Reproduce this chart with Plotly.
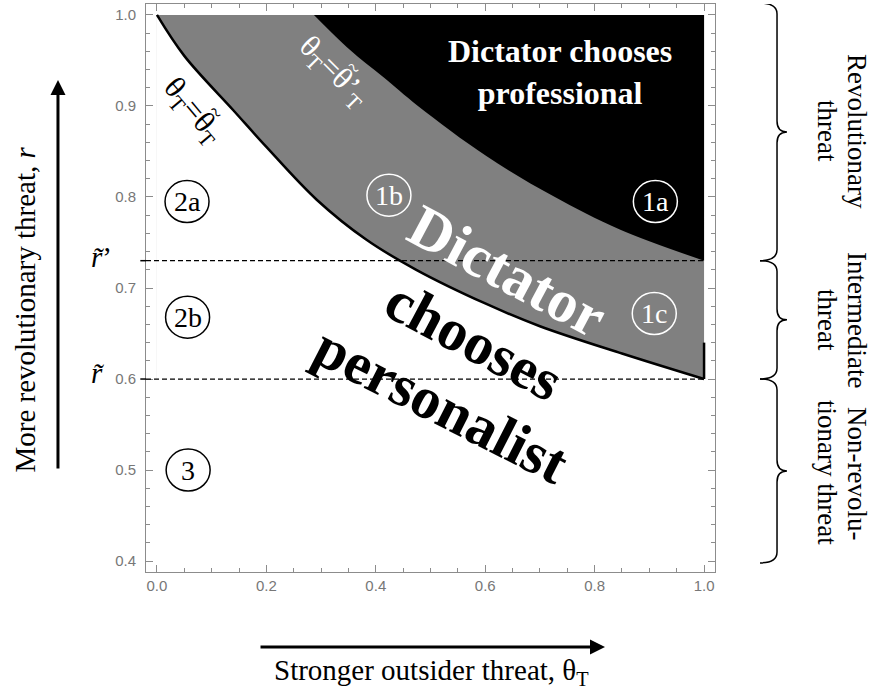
import math
import plotly.graph_objects as go

# ---------------- data ----------------
theta_lower = [0.0, 0.05, 0.14, 0.20, 0.292, 0.383, 0.474, 0.60, 0.70, 0.85, 1.0]
r_lower = [1.0, 0.955, 0.895, 0.855, 0.797, 0.753, 0.720, 0.683, 0.658, 0.628, 0.60]

theta_upper = [0.287, 0.352, 0.413, 0.477, 0.602, 0.724, 0.847, 1.0]
r_upper = [1.0, 0.962, 0.932, 0.90, 0.845, 0.801, 0.764, 0.73]

r_tilde = 0.60
r_tilde_prime = 0.73
theta_min, theta_max = 0.0, 1.0
r_max = 1.0
r_edge_top = 0.64

x_ticks = [0.0, 0.2, 0.4, 0.6, 0.8, 1.0]
x_tick_labels = ["0.0", "0.2", "0.4", "0.6", "0.8", "1.0"]
y_ticks = [0.4, 0.5, 0.6, 0.7, 0.8, 0.9, 1.0]
y_tick_labels = ["0.4", "0.5", "0.6", "0.7", "0.8", "0.9", "1.0"]

region_names = ["1a", "1b", "1c", "2a", "2b", "3"]
region_theta = [0.911, 0.424, 0.909, 0.055, 0.056, 0.057]
region_r = [0.795, 0.802, 0.672, 0.795, 0.668, 0.50]
region_colors = ["white", "white", "white", "black", "black", "black"]

brace_bounds = [1.013, r_tilde_prime, r_tilde, 0.398]

SERIF = "Liberation Serif"
SANS = "Liberation Sans"
GRAY = "#808080"
FRAME = "#8c8c8c"

fig = go.Figure()

# gray band (base), then white below the lower boundary, then black above upper boundary
fig.add_trace(go.Scatter(
    x=[theta_min, theta_max, theta_max, theta_min],
    y=[r_tilde, r_tilde, r_max, r_max],
    mode="lines", line=dict(width=0), fill="toself", fillcolor=GRAY,
    hoverinfo="skip", showlegend=False))

fig.add_trace(go.Scatter(
    x=[theta_min, theta_max], y=[r_tilde, r_tilde],
    mode="lines", line=dict(width=0), hoverinfo="skip", showlegend=False))
fig.add_trace(go.Scatter(
    x=theta_lower, y=r_lower, mode="lines",
    line=dict(color="black", width=2.5, shape="spline"),
    fill="tonexty", fillcolor="white", hoverinfo="skip", showlegend=False))

fig.add_trace(go.Scatter(
    x=theta_upper, y=r_upper, mode="lines",
    line=dict(width=0, shape="spline", color="black"),
    hoverinfo="skip", showlegend=False))
fig.add_trace(go.Scatter(
    x=[theta_upper[0], theta_max], y=[r_max, r_max], mode="lines",
    line=dict(width=0, color="black"), fill="tonexty", fillcolor="black",
    hoverinfo="skip", showlegend=False))

# short black edge at theta = 1
fig.add_trace(go.Scatter(
    x=[theta_max, theta_max], y=[r_tilde, r_edge_top], mode="lines",
    line=dict(color="black", width=2.5), hoverinfo="skip", showlegend=False))

shapes = []
# dashed threshold lines
for rv in (r_tilde_prime, r_tilde):
    shapes.append(dict(type="line", xref="x", yref="y", x0=-0.02, x1=theta_max,
                       y0=rv, y1=rv, line=dict(color="black", width=1.2, dash="5px,3px"),
                       layer="above"))
    shapes.append(dict(type="line", xref="paper", yref="y", x0=-0.010, x1=0.0,
                       y0=rv, y1=rv, line=dict(color="black", width=1.5), layer="above"))

# circled region labels
annotations = []
for name, tx, ry, col in zip(region_names, region_theta, region_r, region_colors):
    shapes.append(dict(type="circle", xref="x", yref="y",
                       xsizemode="pixel", ysizemode="pixel",
                       xanchor=tx, yanchor=ry, x0=-22, x1=22, y0=-21, y1=21,
                       line=dict(color=col, width=1.5), layer="above"))
    annotations.append(dict(x=tx, y=ry, xref="x", yref="y", text=name, showarrow=False,
                            font=dict(family=SERIF, size=28, color=col),
                            xanchor="center", yanchor="middle"))

# braces on the right
xe, xs, xt = 1.0791, 1.109, 1.1265
d = 0.012
for top, bot in zip(brace_bounds[:-1], brace_bounds[1:]):
    mid = (top + bot) / 2
    path = (f"M {xe},{top} Q {xs},{top} {xs},{top - d} "
            f"L {xs},{mid + d} Q {xs},{mid} {xt},{mid} "
            f"Q {xs},{mid} {xs},{mid - d} "
            f"L {xs},{bot + d} Q {xs},{bot} {xe},{bot}")
    shapes.append(dict(type="path", xref="paper", yref="y", path=path,
                       line=dict(color="black", width=1.5)))


def ann(x, y, text, size, color="black", angle=0, xref="x", yref="y", family=SERIF,
        xshift=0, yshift=0):
    return dict(x=x, y=y, xref=xref, yref=yref, text=text, textangle=angle,
                showarrow=False, xanchor="center", yanchor="middle",
                xshift=xshift, yshift=yshift,
                font=dict(family=family, size=size, color=color))


def tilde_over(x, y, angle, along, up, color):
    a = math.radians(angle)
    dx = along * math.cos(a) + up * math.sin(a)
    dy = along * math.sin(a) - up * math.cos(a)   # screen (down positive)
    return ann(x, y, "~", 22, color, angle, xshift=dx, yshift=-dy)


lab_lo = (0.064, 0.894, 50)
lab_up = (0.322, 0.937, 45)

annotations += [
    ann(0.737, 0.937, "<b>Dictator chooses<br>professional</b>", 32, "white"),
    ann(0.640, 0.719, "<b>Dictator</b>", 60, "white", 28),
    ann(0.579, 0.643, "<b>chooses</b>", 59, "black", 28),
    ann(0.521, 0.572, "<b>personalist</b>", 59, "black", 27),
    ann(lab_lo[0], lab_lo[1], "θ<sub>T</sub>=θ<sub>T</sub>", 31, "black", lab_lo[2]),
    tilde_over(lab_lo[0], lab_lo[1], lab_lo[2], 16.5, 18, "black"),
    ann(lab_up[0], lab_up[1], "θ<sub>T</sub>=θ’<sub>T</sub>", 31, "white", lab_up[2]),
    tilde_over(lab_up[0], lab_up[1], lab_up[2], 11.0, 18, "white"),
    ann(-0.079, r_tilde_prime + 0.004, "<i>r\u0303</i>’", 29, xref="paper"),
    ann(-0.085, r_tilde + 0.007, "<i>r\u0303</i>", 29, xref="paper"),
    # axis titles
    ann(-0.2127, 0.462, "More revolutionary threat, <i>r</i>", 29, angle=-90,
        xref="paper", yref="paper"),
    ann(0.5009, -0.176, "Stronger outsider threat, θ<sub>T</sub>", 29,
        xref="paper", yref="paper"),
    # arrows
    dict(x=-0.1547, y=0.866, xref="paper", yref="paper", ax=0, ay=390, axref="pixel", ayref="pixel",
         text="", showarrow=True, arrowhead=2, arrowsize=1, arrowwidth=3, arrowcolor="black"),
    dict(x=0.8067, y=-0.132, xref="paper", yref="paper", ax=-346, ay=0, axref="pixel", ayref="pixel",
         text="", showarrow=True, arrowhead=2, arrowsize=1, arrowwidth=3, arrowcolor="black"),
]

# right-side labels
right_labels = [
    ("Revolutionary", 1.2496, 0.7764), ("threat", 1.1968, 0.7764),
    ("Intermediate", 1.2496, 0.4437), ("threat", 1.1968, 0.4437),
    ("Non-revolu-", 1.2496, 0.1743), ("tionary threat", 1.1968, 0.1743),
]
for txt, px, py in right_labels:
    annotations.append(ann(px, py, txt, 27, angle=90, xref="paper", yref="paper"))

fig.update_layout(
    width=872, height=691, autosize=False,
    margin=dict(l=146, r=157, t=4, b=119),
    paper_bgcolor="white", plot_bgcolor="white",
    shapes=shapes, annotations=annotations, showlegend=False,
    xaxis=dict(range=[-0.02, 1.02], showgrid=False, zeroline=False,
               showline=True, linecolor=FRAME, linewidth=1, mirror="allticks",
               ticks="inside", ticklen=7, tickcolor=FRAME, tickwidth=1,
               tickvals=x_ticks, ticktext=x_tick_labels,
               tickfont=dict(family=SANS, size=15, color="#777777"),
               minor=dict(dtick=0.05, tick0=0, ticks="inside", ticklen=4, tickcolor=FRAME)),
    yaxis=dict(range=[0.388, 1.012], showgrid=False, zeroline=False,
               showline=True, linecolor=FRAME, linewidth=1, mirror="allticks",
               ticks="inside", ticklen=7, tickcolor=FRAME, tickwidth=1,
               tickvals=y_ticks, ticktext=y_tick_labels, ticklabelstandoff=6,
               tickfont=dict(family=SANS, size=15, color="#777777"),
               minor=dict(dtick=0.02, tick0=0.4, ticks="inside", ticklen=4, tickcolor=FRAME)),
)

fig.write_html("out.html", config={"displayModeBar": False},
               post_script="document.body.style.margin='0px';")
